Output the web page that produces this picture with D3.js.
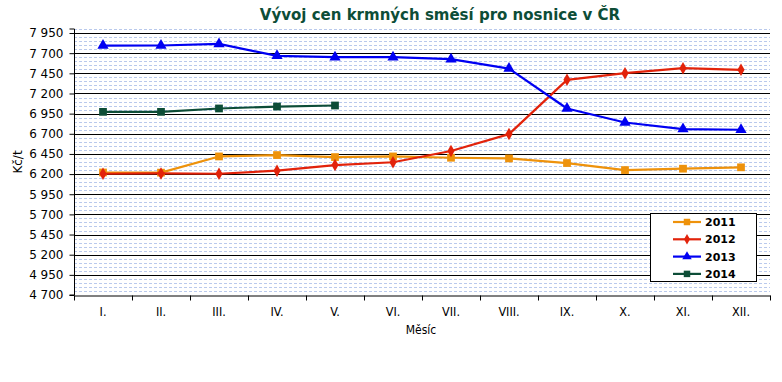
<!DOCTYPE html>
<html>
<head>
<meta charset="utf-8">
<script src="https://cdn.jsdelivr.net/npm/d3@7"></script>
<style>
  html, body { margin: 0; padding: 0; background: #fff; }
  svg { display: block; font-family: "DejaVu Sans", Verdana, sans-serif; }
</style>
</head>
<body>
<svg id="chart" width="782" height="382"></svg>
<script>
const months = ["I.", "II.", "III.", "IV.", "V.", "VI.", "VII.", "VIII.", "IX.", "X.", "XI.", "XII."];
const yTicks = [4700, 4950, 5200, 5450, 5700, 5950, 6200, 6450, 6700, 6950, 7200, 7450, 7700, 7950];
const seriesNames = ["2011", "2012", "2013", "2014"];
const values2011 = [6220, 6218, 6419, 6436, 6411, 6419, 6403, 6394, 6337, 6250, 6267, 6284];
const values2012 = [6204, 6208, 6204, 6242, 6312, 6347, 6486, 6696, 7369, 7452, 7514, 7493];
const values2013 = [7794, 7795, 7815, 7667, 7650, 7650, 7626, 7509, 7014, 6840, 6758, 6750];
const values2014 = [6972, 6972, 7014, 7038, 7051];
const seriesColors = ["#EE920B", "#E2230B", "#0000F2", "#0D4D37"];
const seriesMarkers = ["square", "diamond", "triangle", "square"];

const svg = d3.select("#chart");
const W = 782, H = 382;
const m = { left: 74, right: 12, top: 29, bottom: 87 };

const x = d3.scaleBand().domain(months).range([m.left, W - m.right]).padding(0);
const y = d3.scaleLinear().domain([4700, 8000]).range([H - m.bottom, m.top]);

// minor gridlines every 50
const minor = d3.range(4750, 8001, 50).filter(v => (v - 4700) % 250 !== 0);
svg.append("g").selectAll("line").data(minor).join("line")
  .attr("x1", m.left).attr("x2", W - m.right)
  .attr("y1", d => Math.round(y(d)) + 0.5).attr("y2", d => Math.round(y(d)) + 0.5)
  .attr("stroke", "#b9c9ec").attr("stroke-width", 1).attr("stroke-dasharray", "3,2");

// major gridlines
svg.append("g").selectAll("line").data(yTicks.slice(1)).join("line")
  .attr("x1", m.left).attr("x2", W - m.right)
  .attr("y1", d => Math.round(y(d)) + 0.5).attr("y2", d => Math.round(y(d)) + 0.5)
  .attr("stroke", "#000").attr("stroke-width", 1);

// y axis
const yAxis = d3.axisLeft(y).tickValues(yTicks).tickSize(5).tickPadding(6)
  .tickFormat(d => d3.format(",")(d).replace(",", " "));
const gy = svg.append("g").attr("transform", `translate(${m.left + 0.5},0)`).call(yAxis);
gy.select(".domain").attr("stroke", "#000").attr("d", `M-5,${y(8000)}H0V${y(4700)}H-5`);
gy.selectAll(".tick line").attr("stroke", "#000");
gy.selectAll(".tick text").attr("font-size", 12).attr("fill", "#000")
  .attr("font-family", "DejaVu Sans, sans-serif");

// x axis
const xAxis = d3.axisBottom(x).tickSize(0).tickPadding(12);
const gx = svg.append("g").attr("transform", `translate(0,${Math.round(y(4700)) + 0.5})`).call(xAxis);
gx.select(".domain").attr("stroke", "#000");
gx.selectAll(".tick text").attr("font-size", 12.5).attr("fill", "#000")
  .attr("font-family", "DejaVu Sans Condensed, DejaVu Sans, sans-serif");
// ticks at band boundaries
const bounds = months.map(mo => x(mo)).concat([x(months[months.length - 1]) + x.bandwidth()]);
gx.append("g").selectAll("line").data(bounds).join("line")
  .attr("x1", d => Math.round(d) + 0.5).attr("x2", d => Math.round(d) + 0.5)
  .attr("y1", 0).attr("y2", 5).attr("stroke", "#000");

// series lines and markers
const allSeries = [values2011, values2012, values2013, values2014];
const line = d3.line().x((d, i) => x(months[i]) + x.bandwidth() / 2).y(d => y(d));
const symType = { square: d3.symbolSquare, diamond: d3.symbolDiamond, triangle: d3.symbolTriangle };
const symSize = { square: 60, diamond: 45, triangle: 55 };

allSeries.forEach((vals, si) => {
  const g = svg.append("g");
  g.append("path").datum(vals).attr("d", line).attr("fill", "none")
    .attr("stroke", seriesColors[si]).attr("stroke-width", 2.2).attr("stroke-linejoin", "round");
  const mk = seriesMarkers[si];
  g.selectAll("path.mk").data(vals).join("path").attr("class", "mk")
    .attr("transform", (d, i) => `translate(${x(months[i]) + x.bandwidth() / 2},${y(d)})`)
    .attr("d", d3.symbol().type(symType[mk]).size(symSize[mk]))
    .attr("fill", seriesColors[si]);
});

// legend
const lg = svg.append("g");
lg.append("rect").attr("x", 650.5).attr("y", 213.5).attr("width", 106).attr("height", 68)
  .attr("fill", "#fff").attr("stroke", "#000").attr("stroke-width", 1);
seriesNames.forEach((name, i) => {
  const ly = 222 + i * 17.3;
  lg.append("line").attr("x1", 673).attr("x2", 701).attr("y1", ly).attr("y2", ly)
    .attr("stroke", seriesColors[i]).attr("stroke-width", 2.2);
  const mk = seriesMarkers[i];
  lg.append("path").attr("transform", `translate(687,${ly})`)
    .attr("d", d3.symbol().type(symType[mk]).size(symSize[mk] * 0.7))
    .attr("fill", seriesColors[i]);
  lg.append("text").attr("x", 705).attr("y", ly + 4).text(name)
    .attr("font-size", 11).attr("font-weight", "bold").attr("fill", "#000");
});

// title
svg.append("text").attr("x", 440).attr("y", 20).attr("text-anchor", "middle")
  .attr("font-size", 15).attr("font-weight", "bold").attr("fill", "#0D4D37")
  .text("Vývoj cen krmných směsí pro nosnice v ČR");

// axis titles
svg.append("text").attr("x", 421).attr("y", 334).attr("text-anchor", "middle")
  .attr("font-size", 12).attr("fill", "#000")
  .attr("font-family", "DejaVu Sans Condensed, DejaVu Sans, sans-serif").text("Měsíc");
svg.append("text").attr("transform", "translate(22,162) rotate(-90)").attr("text-anchor", "middle")
  .attr("font-size", 12).attr("fill", "#000").text("Kč/t");
</script>
</body>
</html>
